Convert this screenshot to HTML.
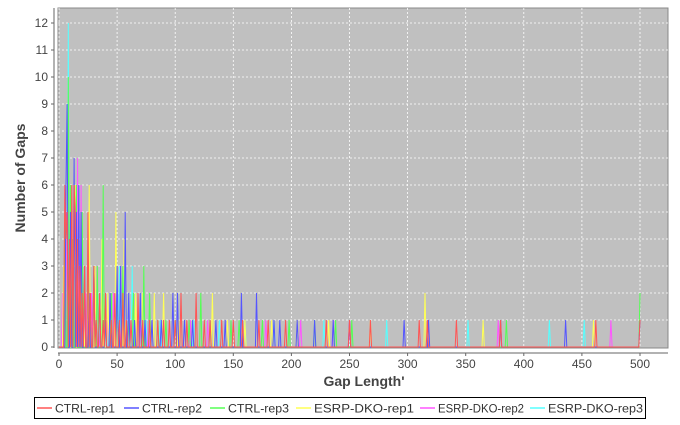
<!DOCTYPE html>
<html><head><meta charset="utf-8"><style>
body{margin:0;background:#fff;width:680px;height:420px;overflow:hidden;font-family:"Liberation Sans",sans-serif}
</style></head><body>
<svg id="chart" width="680" height="420" xmlns="http://www.w3.org/2000/svg" font-family="Liberation Sans, sans-serif">
<rect x="58" y="8" width="610" height="340" fill="#c0c0c0" stroke="#888"/>
<g id="grid"></g><g id="series"></g><g id="axes"></g>
<text x="364" y="386" text-anchor="middle" font-size="14" font-weight="bold" fill="#444">Gap Length'</text>
<text transform="translate(25,178) rotate(-90)" text-anchor="middle" font-size="14" font-weight="bold" fill="#444">Number of Gaps</text>
<g id="legend"></g>
</svg>
<script>
const xTicks=[0,50,100,150,200,250,300,350,400,450,500];
const yTicks=[0,1,2,3,4,5,6,7,8,9,10,11,12];
const seriesNames=["CTRL-rep1","CTRL-rep2","CTRL-rep3","ESRP-DKO-rep1","ESRP-DKO-rep2","ESRP-DKO-rep3"];
const ctrlRep1=[[5,6],[6,4],[7,5],[9,4],[11,6],[13,6],[14,5],[16,4],[18,3],[20,2],[22,3],[25,5],[27,2],[30,3],[32,1],[35,2],[38,1],[40,2],[45,1],[48,2],[52,1],[55,2],[58,1],[62,1],[68,2],[72,1],[78,1],[85,1],[90,1],[95,1],[100,1],[105,2],[110,1],[118,2],[125,1],[130,1],[140,1],[150,1],[158,1],[172,1],[180,1],[195,1],[230,1],[250,1],[268,1],[310,1],[317,1],[342,1],[380,1],[462,1],[500,1]];
const ctrlRep2=[[6,6],[7,9],[10,5],[13,7],[15,5],[17,6],[19,5],[22,3],[26,2],[30,3],[35,2],[40,1],[44,2],[50,3],[53,3],[57,5],[60,2],[65,1],[70,2],[74,1],[80,1],[88,1],[98,2],[102,2],[108,1],[115,1],[135,1],[143,1],[157,2],[170,2],[185,1],[190,1],[205,1],[220,1],[236,1],[250,1],[297,1],[318,1],[380,1],[436,1],[500,1]];
const ctrlRep3=[[5,5],[8,10],[10,6],[12,4],[15,6],[20,5],[25,4],[30,3],[33,3],[38,6],[40,1],[45,2],[50,2],[55,3],[60,1],[64,2],[73,3],[78,2],[85,1],[92,1],[100,1],[112,1],[122,2],[130,1],[148,1],[155,1],[175,1],[198,1],[220,1],[238,1],[252,1],[385,1],[500,2]];
const dkoRep1=[[4,3],[9,4],[14,6],[18,3],[21,2],[26,6],[31,3],[37,4],[42,2],[49,5],[56,4],[66,2],[72,2],[82,2],[90,2],[103,1],[132,2],[145,1],[160,1],[183,1],[205,1],[232,1],[268,1],[315,2],[365,1],[460,1]];
const dkoRep2=[[3,2],[6,5],[11,4],[16,7],[19,6],[23,2],[28,2],[34,1],[42,1],[47,2],[54,1],[62,1],[70,1],[77,1],[95,1],[113,1],[128,1],[148,1],[178,1],[208,1],[236,1],[250,1],[378,1],[475,1]];
const dkoRep3=[[3,1],[8,12],[12,4],[17,2],[24,1],[29,1],[36,2],[43,1],[52,3],[63,3],[75,1],[87,1],[100,1],[116,1],[138,1],[160,1],[185,1],[228,1],[282,1],[352,1],[422,1],[452,1]];
const allSeries=[ctrlRep1,ctrlRep2,ctrlRep3,dkoRep1,dkoRep2,dkoRep3];
const colors=["#ff5555","#5555ff","#55ff55","#ffff55","#ff55ff","#55ffff"];
const NS="http://www.w3.org/2000/svg";
function sx(v){return 59+v*1.162;}
function sy(v){return 347-v*27;}
function mk(tag,attrs,parent){const e=document.createElementNS(NS,tag);for(const k in attrs)e.setAttribute(k,attrs[k]);parent.appendChild(e);return e;}
const grid=document.getElementById('grid'),axes=document.getElementById('axes'),ser=document.getElementById('series'),leg=document.getElementById('legend');
xTicks.forEach(t=>{
 const g=mk('line',{x1:sx(t),x2:sx(t),y1:8,y2:348,stroke:'#fff','stroke-dasharray':'2,2','stroke-width':0.8},grid);
 
 
 mk('line',{x1:sx(t),x2:sx(t),y1:353,y2:356,stroke:'#666'},axes);
 const l=mk('text',{x:sx(t),y:368,'text-anchor':'middle','font-size':12,fill:'#444'},axes);
 l.textContent=t;
 
 
});
yTicks.forEach(t=>{
 if(t>0){const g=mk('line',{x1:58,x2:668,y1:sy(t),y2:sy(t),stroke:'#fff','stroke-dasharray':'2,2','stroke-width':0.8},grid);
 
 }
 mk('line',{x1:51,x2:54,y1:sy(t),y2:sy(t),stroke:'#666'},axes);
 const l=mk('text',{x:48,y:sy(t)+4,'text-anchor':'end','font-size':12,fill:'#444'},axes);
 l.textContent=t;
 
 
});
mk('line',{x1:54,x2:54,y1:8,y2:348,stroke:'#666'},axes);
mk('line',{x1:58,x2:668,y1:353,y2:353,stroke:'#666'},axes);
for(let s=allSeries.length-1;s>=0;s--){
 const m={};allSeries[s].forEach(p=>m[p[0]]=p[1]);
 const pts=[];for(let x=0;x<=500;x++)pts.push(sx(x).toFixed(1)+','+sy(m[x]||0).toFixed(1));
 const pl=mk('polyline',{points:pts.join(' '),fill:'none',stroke:colors[s],'stroke-width':1},ser);
 
 
}
mk('rect',{x:34.5,y:397.5,width:611,height:21,fill:'#fff',stroke:'#000'},leg);
const legX=[37,124,210,296,420,530];
const legW=[60,60,61,100,86,95];
seriesNames.forEach((n,i)=>{
 const g=mk('g',{},leg);
 
 
 mk('line',{x1:legX[i],x2:legX[i]+15,y1:408,y2:408,stroke:colors[i],'stroke-width':1.5},g);
 const t=mk('text',{x:legX[i]+18,y:412.5,'font-size':12,fill:'#333',textLength:legW[i],lengthAdjust:'spacingAndGlyphs'},g);
 t.textContent=n;
});
</script>
</body></html>
